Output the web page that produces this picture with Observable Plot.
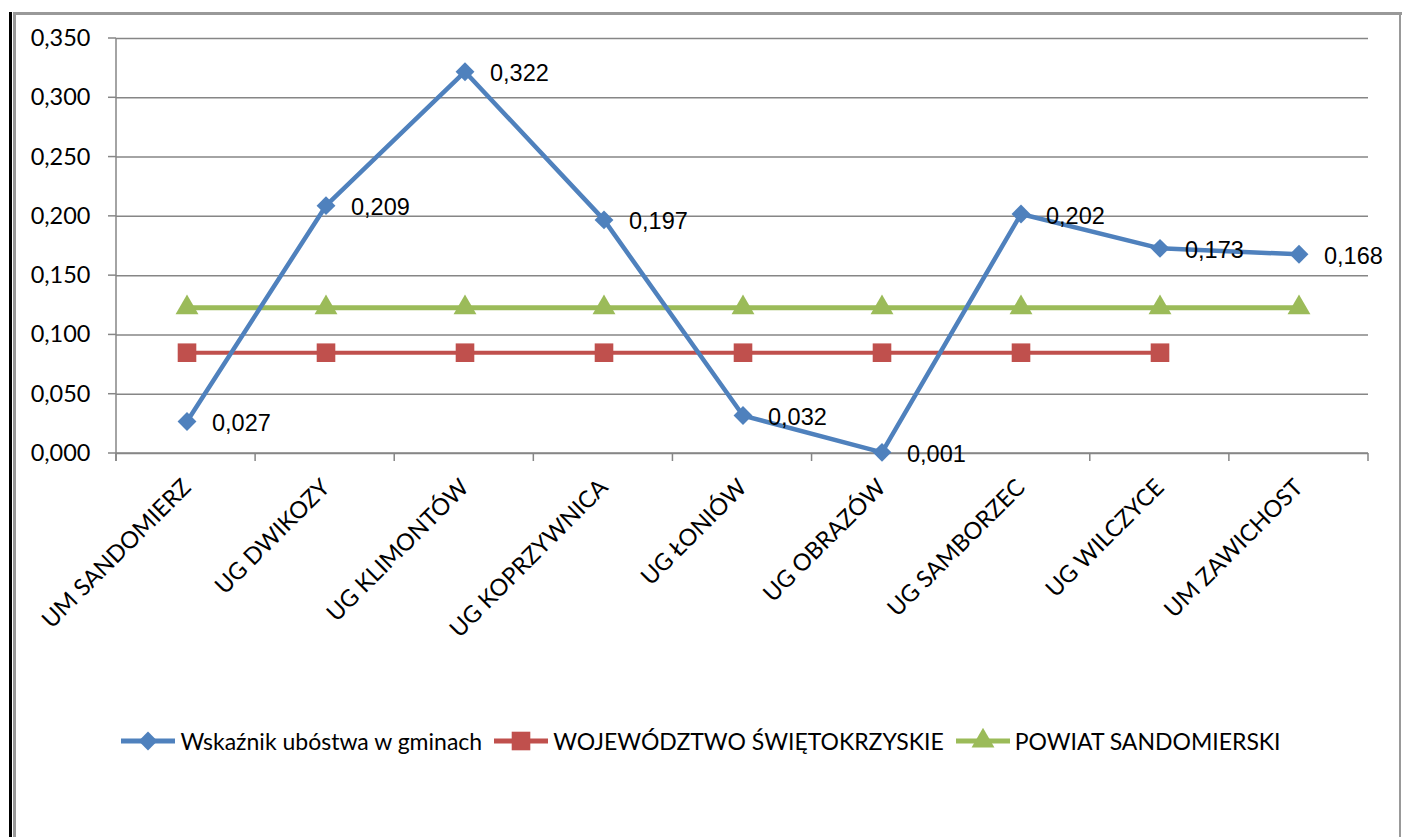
<!DOCTYPE html>
<html>
<head>
<meta charset="utf-8">
<script src="https://cdn.jsdelivr.net/npm/d3@7"></script>
<script src="https://cdn.jsdelivr.net/npm/@observablehq/plot@0.6"></script>
<style>
  html, body { margin: 0; padding: 0; background: white; }
  #wrap { position: relative; width: 1402px; height: 837px; overflow: hidden; background: white; }
  #chart { position: absolute; left: 0; top: 0; }
  .bl { position: absolute; left: 9px; top: 12px; width: 3px; bottom: 0; background: #000; }
  .gl { position: absolute; left: 13px; top: 12px; width: 3px; bottom: 0; background: #999; }
  .gt { position: absolute; left: 13px; top: 12px; right: 0; height: 3px; background: #999; }
  .gr { position: absolute; left: 1399px; top: 12px; width: 2px; bottom: 0; background: #999; }
  #legend { position: absolute; left: 0; top: 727px; width: 1402px; display: flex; justify-content: center; align-items: center;
            font-family: Lato, "Open Sans", sans-serif; font-size: 23px; color: #000; }
  .item { display: flex; align-items: center; margin: 0 6px; }
  .item svg { margin-right: 5px; }
</style>
</head>
<body>
<div id="wrap">
  <div id="chart"></div>
  <div class="bl"></div><div class="gl"></div><div class="gt"></div><div class="gr"></div>
  <div id="legend"></div>
</div>
<script>
const categories = ["UM SANDOMIERZ", "UG DWIKOZY", "UG KLIMONTÓW", "UG KOPRZYWNICA", "UG ŁONIÓW", "UG OBRAZÓW", "UG SAMBORZEC", "UG WILCZYCE", "UM ZAWICHOST"];
const wskaznik = [0.027, 0.209, 0.322, 0.197, 0.032, 0.001, 0.202, 0.173, 0.168];
const wojewodztwo = [0.085, 0.085, 0.085, 0.085, 0.085, 0.085, 0.085, 0.085, null];
const powiat = [0.123, 0.123, 0.123, 0.123, 0.123, 0.123, 0.123, 0.123, 0.123];
const yTicks = [0, 0.05, 0.1, 0.15, 0.2, 0.25, 0.3, 0.35];
const seriesNames = ["Wskaźnik ubóstwa w gminach", "WOJEWÓDZTWO ŚWIĘTOKRZYSKIE", "POWIAT SANDOMIERSKI"];
const seriesColors = ["#4F81BD", "#C0504D", "#9BBB59"];
const seriesSymbols = ["diamond2", "square", "triangle"];

const fmt = d => d3.format(".3f")(d).replace(".", ",");
const toRows = (vals) => categories.map((c, i) => ({cat: c, v: vals[i]})).filter(d => d.v != null);
const rowsW = toRows(wskaznik), rowsR = toRows(wojewodztwo), rowsG = toRows(powiat);

const W = 1402, H = 700, mL = 116, mR = 34, mT = 38, mB = 247;
const axisColor = "#868686";

function axesMark(index, scales, values, dims) {
  const y = scales.y;
  const n = categories.length;
  const left = dims.marginLeft, right = dims.width - dims.marginRight;
  const bw = (right - left) / n;
  const y0 = y(0), yTop = y(d3.max(yTicks));
  const g = d3.create("svg:g").attr("stroke", axisColor).attr("stroke-width", 1.5).attr("fill", "none");
  for (const t of yTicks) g.append("line").attr("x1", left - 8).attr("x2", left).attr("y1", y(t)).attr("y2", y(t));
  g.append("line").attr("x1", left).attr("x2", left).attr("y1", yTop).attr("y2", y0 + 8);
  g.append("line").attr("x1", left).attr("x2", right).attr("y1", y0).attr("y2", y0);
  for (let i = 0; i <= n; i++) g.append("line").attr("x1", left + i * bw).attr("x2", left + i * bw).attr("y1", y0).attr("y2", y0 + 8);
  return g.node();
}

const plot = Plot.plot({
  width: W, height: H,
  marginLeft: mL, marginRight: mR, marginTop: mT, marginBottom: mB,
  style: {fontFamily: "Lato, 'Open Sans', sans-serif", color: "#000", background: "transparent", overflow: "visible"},
  x: {type: "band", domain: categories, padding: 0, label: null},
  y: {domain: [0, 0.35], label: null},
  marks: [
    Plot.gridY(yTicks, {stroke: axisColor, strokeOpacity: 1, strokeWidth: 1.5}),
    axesMark,
    Plot.axisY(yTicks, {tickSize: 0, tickPadding: 26, tickFormat: fmt, fontSize: 23.5, label: null}),
    Plot.axisX({tickSize: 0, tickRotate: -45, tickPadding: 30, fontSize: 23.5, label: null}),
    Plot.line(rowsG, {x: "cat", y: "v", stroke: seriesColors[2], strokeWidth: 5}),
    Plot.dot(rowsG, {x: "cat", y: "v", symbol: seriesSymbols[2], r: 8.5, fill: seriesColors[2], stroke: "none"}),
    Plot.line(rowsR, {x: "cat", y: "v", stroke: seriesColors[1], strokeWidth: 4}),
    Plot.dot(rowsR, {x: "cat", y: "v", symbol: seriesSymbols[1], r: 10.5, fill: seriesColors[1], stroke: "none"}),
    Plot.line(rowsW, {x: "cat", y: "v", stroke: seriesColors[0], strokeWidth: 4.5}),
    Plot.dot(rowsW, {x: "cat", y: "v", symbol: seriesSymbols[0], r: 8.5, fill: seriesColors[0], stroke: "none"}),
    Plot.text(rowsW, {x: "cat", y: "v", text: d => fmt(d.v), textAnchor: "start", dx: 25, dy: 2, fontSize: 23.5,
      fontFamily: "'Liberation Sans', Arial, sans-serif", fill: "#000"})
  ]
});
document.getElementById("chart").appendChild(plot);

const legend = d3.select("#legend");
const symPath = (s, size) => d3.symbol(s === "diamond2" ? d3.symbolDiamond2 : s === "square" ? d3.symbolSquare : d3.symbolTriangle, size)();
const symSizes = [Math.PI * 72, Math.PI * 10.5 * 10.5, Math.PI * 72];
seriesNames.forEach((name, i) => {
  const it = legend.append("div").attr("class", "item");
  const svg = it.append("svg").attr("width", 54).attr("height", 26);
  svg.append("line").attr("x1", 0).attr("x2", 54).attr("y1", 13).attr("y2", 13).attr("stroke", seriesColors[i]).attr("stroke-width", 5);
  svg.append("path").attr("d", symPath(seriesSymbols[i], symSizes[i])).attr("transform", "translate(27,13)").attr("fill", seriesColors[i]);
  it.append("span").text(name);
});
</script>
</body>
</html>
